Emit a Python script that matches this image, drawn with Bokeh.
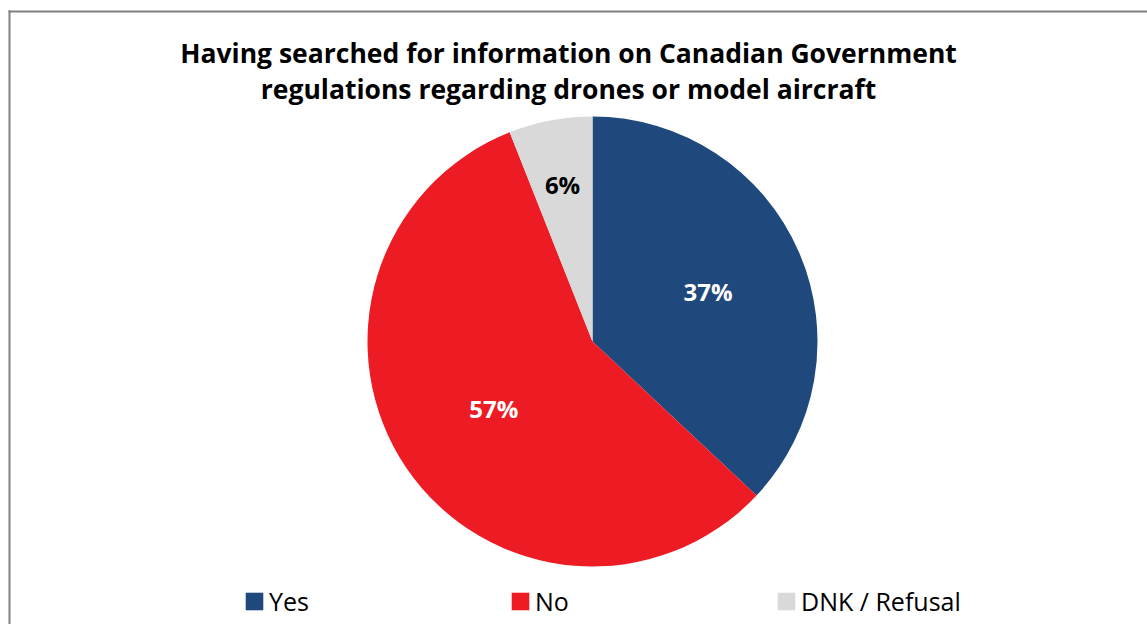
import math
from bokeh.plotting import figure
from bokeh.models import ColumnDataSource, Range1d, Label, Legend, LegendItem
from bokeh.embed import file_html
from bokeh.resources import INLINE

# ---- data ----
categories = ["Yes", "No", "DNK / Refusal"]
values = [37, 57, 6]
colors = ["#1F497D", "#ED1C24", "#D9D9D9"]
label_colors = ["white", "white", "black"]
title_lines = ["Having searched for information on Canadian Government",
               "regulations regarding drones or model aircraft"]

W, H = 1147, 624
CX, CY, R = 592, 283, 225
label_r = [0.56, 0.53, 0.71]
FONT = "Open Sans"
BL, BT = 9, H - 11   # chart-area border: left edge x, top edge y

total = sum(values)
starts, ends = [], []
cum = 0.0
for v in values:
    starts.append(math.pi / 2 - 2 * math.pi * cum / total)
    cum += v
    ends.append(math.pi / 2 - 2 * math.pi * cum / total)

src = ColumnDataSource(dict(cat=categories, val=values, color=colors,
                            start=starts, end=ends))

p = figure(width=W, height=H, output_backend="svg", toolbar_location=None,
           x_range=Range1d(0, W), y_range=Range1d(0, H),
           x_axis_type=None, y_axis_type=None, min_border=0)
p.grid.visible = False
p.outline_line_color = None
p.background_fill_color = "white"
p.border_fill_color = "white"

# chart area border (right / bottom edges fall outside the window)
p.segment(x0=[BL, BL - 1], y0=[-5, BT], x1=[BL, W + 5], y1=[BT + 1, BT],
          line_color="#808080", line_width=2)

r = p.wedge(x=CX, y=CY, radius=R, start_angle="start", end_angle="end",
            direction="clock", fill_color="color", line_color=None, source=src)

# slice labels
mid = 0.0
for i, v in enumerate(values):
    a = math.pi / 2 - 2 * math.pi * (mid + v / 2) / total
    mid += v
    lx = CX + label_r[i] * R * math.cos(a)
    ly = CY + label_r[i] * R * math.sin(a)
    p.add_layout(Label(x=lx, y=ly, text=f"{v}%", text_align="center",
                       text_baseline="middle", text_font=FONT,
                       text_font_style="bold", text_font_size="24px",
                       text_color=label_colors[i]))

# title
for j, t in enumerate(title_lines):
    p.add_layout(Label(x=568, y=H - 52 - 36 * j, text=t, text_align="center",
                       text_baseline="alphabetic", text_font=FONT,
                       text_font_style="bold", text_font_size="26.5px",
                       text_color="black"))

legend = Legend(items=[LegendItem(label=c, renderers=[r], index=i)
                       for i, c in enumerate(categories)],
                orientation="horizontal", location=(243, 6),
                glyph_width=22, glyph_height=22, label_standoff=4,
                label_width=230, spacing=10, padding=0, margin=0,
                border_line_color=None, background_fill_alpha=0,
                label_text_font=FONT, label_text_font_size="25px",
                label_text_color="black")
p.add_layout(legend)

open("out.html", "w").write(file_html(p, INLINE))
